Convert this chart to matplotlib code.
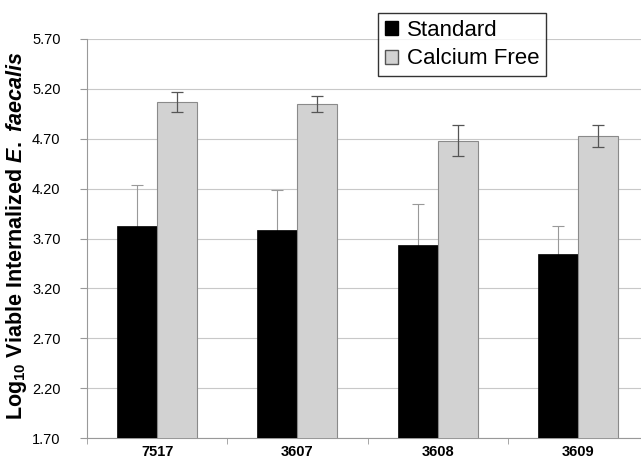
import matplotlib
matplotlib.use("Agg")
import matplotlib.pyplot as plt
import numpy as np
from matplotlib.patches import Patch

categories = ["7517", "3607", "3608", "3609"]
standard = [3.83, 3.785, 3.63, 3.54]
standard_err = [0.41, 0.40, 0.42, 0.29]
calcium_free = [5.07, 5.05, 4.68, 4.73]
calcium_free_err = [0.10, 0.08, 0.155, 0.11]
yticks = [1.70, 2.20, 2.70, 3.20, 3.70, 4.20, 4.70, 5.20, 5.70]

plt.rcParams['font.family'] = ['Liberation Sans', 'DejaVu Sans']
plt.rcParams['mathtext.fontset'] = 'custom'
plt.rcParams['mathtext.rm'] = 'Liberation Sans:bold'
plt.rcParams['mathtext.it'] = 'Liberation Sans:bold:italic'
plt.rcParams['mathtext.bf'] = 'Liberation Sans:bold'

W, H = 641, 465
fig = plt.figure(figsize=(W / 100, H / 100), dpi=100)
ax = fig.add_axes([87 / W, 1 - 438 / H, (648 - 87) / W, (438 - 39) / H])

x = np.arange(len(categories))
bw = 0.285
ax.errorbar(x - bw / 2, standard, yerr=standard_err,
            fmt='none', ecolor='#999999', elinewidth=0.8, capsize=4, capthick=0.8, zorder=2)
ax.bar(x - bw / 2, standard, bw, color='black', edgecolor='black',
       linewidth=0.5, zorder=3)
ax.bar(x + bw / 2, calcium_free, bw, color='#d2d2d2', edgecolor='#8a8a8a',
       linewidth=0.8, zorder=3)
ax.errorbar(x + bw / 2, calcium_free, yerr=calcium_free_err,
            fmt='none', ecolor='#555555', elinewidth=0.9, capsize=4, capthick=0.9, zorder=4)

ax.set_ylim(1.70, 5.70)
ax.set_xlim(-0.5, len(categories) - 0.5)
ax.set_yticks(yticks)
ax.set_yticklabels([f"{v:.2f}" for v in yticks], fontsize=10.5)
ax.yaxis.grid(True, color='#c8c8c8', linewidth=0.8, zorder=0)
ax.set_axisbelow(True)

ax.set_xticks(x)
ax.set_xticklabels(categories, fontsize=10.5, fontweight='bold')
ax.tick_params(axis='x', length=0, pad=5)
ax.set_xticks(np.arange(-0.5, len(categories) + 0.5, 1), minor=True)
ax.tick_params(axis='x', which='minor', length=4, color='#999999')
ax.tick_params(axis='y', length=5, color='#999999', pad=14)

for s in ['top', 'right']:
    ax.spines[s].set_visible(False)
for s in ['left', 'bottom']:
    ax.spines[s].set_color('#999999')
    ax.spines[s].set_linewidth(0.8)

fig.text(17 / W, 1 - 236 / H, r"Log$_{10}$ Viable Internalized $\mathit{E.\ faecalis}$",
         rotation=90, ha='center', va='center', fontsize=15.5, fontweight='bold')

handles = [Patch(facecolor='black', edgecolor='black'),
           Patch(facecolor='#d2d2d2', edgecolor='#555555')]
leg = fig.legend(handles, ["Standard", "Calcium Free"], loc='upper left',
                 bbox_to_anchor=(378 / W, 1 - 13 / H), fontsize=16,
                 frameon=True, fancybox=False, edgecolor='black',
                 handlelength=0.6, handleheight=0.6, handletextpad=0.4,
                 borderpad=0.3, labelspacing=0.35, borderaxespad=0)
leg.get_frame().set_linewidth(1.0)

fig.savefig("out.png", dpi=100)
